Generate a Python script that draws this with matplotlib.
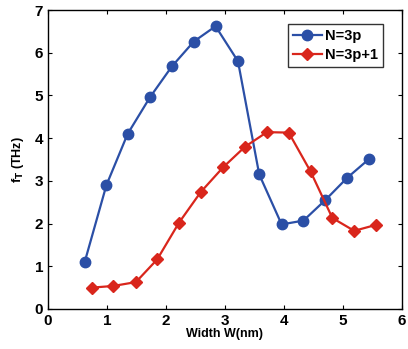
import matplotlib
matplotlib.use("Agg")
import matplotlib.pyplot as plt

# data
w_3p = [0.62, 0.99, 1.35, 1.73, 2.10, 2.47, 2.84, 3.22, 3.58, 3.96, 4.33, 4.70, 5.07, 5.44]
ft_3p = [1.09, 2.90, 4.10, 4.96, 5.68, 6.26, 6.62, 5.80, 3.15, 1.98, 2.07, 2.55, 3.07, 3.51]

w_3p1 = [0.74, 1.11, 1.49, 1.85, 2.22, 2.59, 2.97, 3.34, 3.71, 4.08, 4.45, 4.82, 5.19, 5.56]
ft_3p1 = [0.50, 0.54, 0.63, 1.16, 2.02, 2.74, 3.32, 3.80, 4.14, 4.13, 3.22, 2.13, 1.83, 1.97]

plt.rcParams['font.family'] = ['Liberation Sans', 'DejaVu Sans']
plt.rcParams['font.weight'] = 'bold'

fig = plt.figure(figsize=(4.08, 3.49), dpi=100)
ax = fig.add_axes([48/408, 1-309/349, 354/408, 299/349])

ax.plot(w_3p, ft_3p, '-o', color='#2b4fa6', lw=1.6, ms=7.5, label='N=3p')
ax.plot(w_3p1, ft_3p1, '-D', color='#d9261c', lw=1.6, ms=6.5, label='N=3p+1')

ax.set_xlim(0, 6)
ax.set_ylim(0, 7)
ax.tick_params(direction='in', top=True, right=True, labelsize=11, length=3)
for t in ax.get_xticklabels() + ax.get_yticklabels():
    t.set_fontweight('bold')
for s in ax.spines.values():
    s.set_linewidth(1)

ax.set_xlabel('Width W(nm)', fontsize=9, fontweight='bold', labelpad=0)
ax.set_ylabel(r'f$_\mathbf{T}$ (THz)', fontsize=9, fontweight='bold', labelpad=6)

leg = ax.legend(loc='upper right', fontsize=10.5, handlelength=2.0, handletextpad=0.2,
                borderpad=0.35, labelspacing=0.35, fancybox=False, edgecolor='black',
                borderaxespad=0, bbox_to_anchor=(0.946, 0.953))
leg.get_frame().set_linewidth(1)

fig.savefig('out.png', dpi=100)
